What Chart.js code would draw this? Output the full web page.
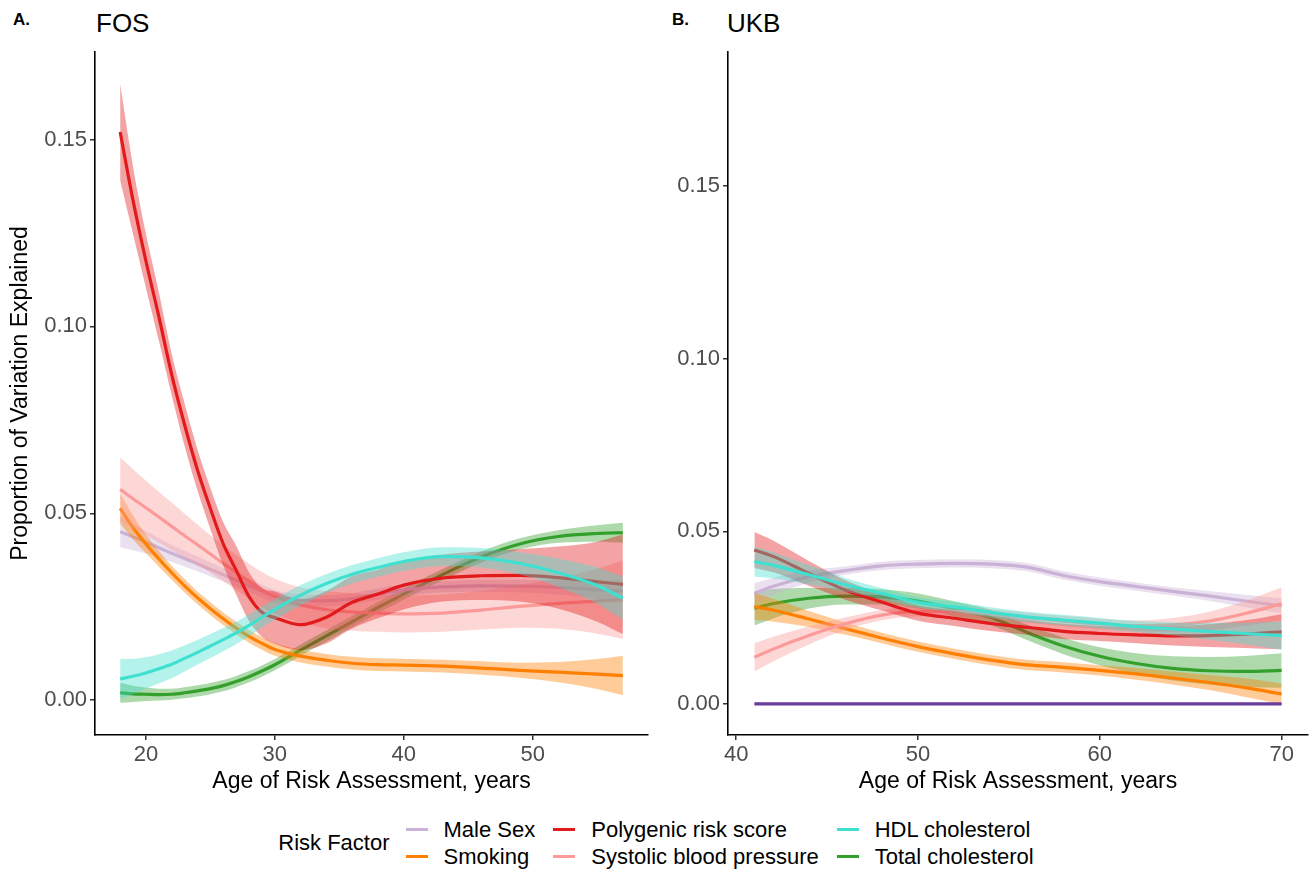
<!DOCTYPE html>
<html>
<head>
<meta charset="utf-8">
<script src="https://cdn.jsdelivr.net/npm/chart.js@4.4.0/dist/chart.umd.min.js"></script>
<style>
    body { margin: 0; background: #fff; width: 1312px; height: 873px; position: relative; overflow: hidden;
           font-family: "Liberation Sans", Arial, sans-serif; }
    canvas { position: absolute; top: 0; }
    .tag { position: absolute; top: 11px; font-size: 17px; font-weight: bold; line-height: 1; }
    .ttl { position: absolute; top: 10px; font-size: 26px; line-height: 1; }
    #legend { position: absolute; left: 0; top: 816px; width: 1312px; display: flex; justify-content: center; align-items: center; font-size: 22px; }
    #legend .head { margin-right: 16px; }
    #legend .col { display: flex; flex-direction: column; margin-right: 18px; }
    #legend .col:last-child { margin-right: 0; }
    #legend .item { display: flex; align-items: center; height: 27px; }
    #legend .key { width: 22px; height: 3px; margin-right: 16px; }
</style>
</head>
<body>
<div class="tag" style="left:13px">A.</div>
<div class="ttl" style="left:96px">FOS</div>
<div class="tag" style="left:672px">B.</div>
<div class="ttl" style="left:727px">UKB</div>
<canvas id="fos-chart" width="660" height="800" style="left:0"></canvas>
<canvas id="ukb-chart" width="652" height="800" style="left:660px"></canvas>
<div id="legend"></div>

<script>
// Faktor risiko (urutan legenda)
const riskFactors = ['Male Sex', 'Smoking', 'Polygenic risk score', 'Systolic blood pressure', 'HDL cholesterol', 'Total cholesterol'];
const legendTitle = 'Risk Factor';

// Tick sumbu
const pveTicks = [0, 0.05, 0.10, 0.15];
const fosAgeTicks = [20, 30, 40, 50];
const ukbAgeTicks = [40, 50, 60, 70];

// FOS: usia dan nilai (rata-rata dan setengah lebar pita)
const fosAges = [18, 19, 20, 21, 22, 23, 24, 25, 26, 27, 28, 29, 30, 32, 34, 36, 38, 40, 43, 46, 49, 52, 55, 57];
const fosMaleSex     = [.0451, .0437, .0423, .0408, .0393, .0379, .0365, .0350, .0336, .0321, .0307, .0292, .0278, .0268, .0266, .0272, .0284, .0295, .0303, .0306, .0305, .0302, .0296, .0292];
const fosMaleSexCI   = [.0042, .0036, .0030, .0026, .0023, .0021, .0020, .0019, .0018, .0018, .0017, .0017, .0017, .0016, .0015, .0015, .0015, .0015, .0015, .0016, .0017, .0019, .0024, .0030];
const fosSmoking     = [.0513, .0462, .0418, .0378, .0341, .0306, .0274, .0245, .0218, .0193, .0171, .0152, .0136, .0118, .0107, .0099, .0095, .0094, .0091, .0086, .0080, .0075, .0070, .0066];
const fosSmokingCI   = [.0040, .0032, .0025, .0021, .0019, .0018, .0017, .0017, .0017, .0017, .0017, .0017, .0017, .0017, .0017, .0017, .0017, .0017, .0017, .0018, .0020, .0027, .0040, .0053];
const fosPrs         = [.1520, .1337, .1175, .1027, .0871, .0737, .0616, .0513, .0418, .0348, .0277, .0235, .0221, .0202, .0222, .0262, .0284, .0308, .0327, .0333, .0334, .0328, .0317, .0310];
const fosPrsCI       = [.0129, .0090, .0072, .0065, .0055, .0057, .0055, .0055, .0058, .0065, .0065, .0065, .0070, .0068, .0070, .0070, .0065, .0065, .0063, .0065, .0070, .0083, .0107, .0133];
const fosSbp         = [.0564, .0539, .0515, .0490, .0465, .0440, .0416, .0391, .0366, .0342, .0318, .0296, .0278, .0255, .0242, .0236, .0233, .0231, .0233, .0241, .0251, .0259, .0265, .0269];
const fosSbpCI       = [.0085, .0079, .0073, .0068, .0064, .0059, .0054, .0050, .0048, .0047, .0047, .0047, .0047, .0047, .0050, .0050, .0050, .0050, .0050, .0052, .0057, .0068, .0087, .0105];
const fosHdl         = [.0057, .0064, .0073, .0084, .0096, .0112, .0128, .0145, .0162, .0180, .0200, .0222, .0243, .0281, .0312, .0337, .0355, .0371, .0384, .0381, .0366, .0341, .0307, .0273];
const fosHdlCI       = [.0053, .0047, .0042, .0039, .0037, .0035, .0033, .0032, .0031, .0030, .0029, .0028, .0028, .0027, .0026, .0025, .0025, .0025, .0025, .0026, .0030, .0038, .0048, .0058];
const fosTotalChol   = [.0020, .0017, .0016, .0015, .0016, .0020, .0025, .0031, .0039, .0050, .0063, .0078, .0095, .0134, .0172, .0210, .0248, .0284, .0336, .0383, .0418, .0438, .0446, .0448];
const fosTotalCholCI = [.0027, .0022, .0018, .0016, .0015, .0015, .0015, .0015, .0015, .0015, .0015, .0015, .0015, .0015, .0015, .0015, .0015, .0015, .0015, .0015, .0015, .0017, .0022, .0027];

// UKB: usia dan nilai
const ukbAges = [41, 42, 44, 46, 48, 50, 52, 54, 56, 58, 60, 62, 64, 66, 68, 70];
const ukbMaleSex     = [.0320, .0340, .0369, .0386, .0400, .0405, .0407, .0405, .0396, .0372, .0354, .0340, .0326, .0313, .0298, .0284];
const ukbMaleSexCI   = [.0030, .0025, .0018, .0012, .0012, .0012, .0012, .0012, .0012, .0012, .0012, .0012, .0012, .0014, .0018, .0022];
const ukbSmoking     = [.0282, .0272, .0246, .0218, .0191, .0166, .0145, .0127, .0113, .0106, .0097, .0087, .0075, .0062, .0047, .0029];
const ukbSmokingCI   = [.0039, .0033, .0023, .0018, .0015, .0015, .0015, .0015, .0015, .0015, .0015, .0017, .0019, .0022, .0027, .0030];
const ukbPrs         = [.0446, .0428, .0378, .0330, .0295, .0263, .0248, .0233, .0222, .0210, .0204, .0200, .0197, .0198, .0202, .0209];
const ukbPrsCI       = [.0052, .0046, .0036, .0028, .0024, .0022, .0022, .0022, .0022, .0022, .0022, .0024, .0028, .0033, .0040, .0051];
const ukbSbp         = [.0135, .0158, .0198, .0232, .0257, .0268, .0268, .0260, .0250, .0240, .0232, .0227, .0229, .0240, .0262, .0290];
const ukbSbpCI       = [.0041, .0036, .0026, .0018, .0015, .0015, .0015, .0015, .0015, .0015, .0015, .0015, .0020, .0027, .0036, .0048];
const ukbHdl         = [.0412, .0402, .0374, .0345, .0320, .0294, .0281, .0265, .0252, .0243, .0234, .0224, .0217, .0210, .0204, .0198];
const ukbHdlCI       = [.0044, .0038, .0028, .0020, .0016, .0015, .0015, .0015, .0015, .0015, .0015, .0016, .0019, .0024, .0031, .0041];
const ukbTotalChol   = [.0277, .0290, .0306, .0312, .0310, .0298, .0275, .0250, .0207, .0168, .0138, .0117, .0103, .0096, .0094, .0097];
const ukbTotalCholCI = [.0050, .0043, .0030, .0024, .0022, .0022, .0022, .0022, .0022, .0024, .0026, .0030, .0035, .0040, .0045, .0050];
const ukbBaseline    = [0, 0, 0, 0, 0, 0, 0, 0, 0, 0, 0, 0, 0, 0, 0, 0];

// Warna per faktor risiko
const factorColors = ['#cab2d6', '#ff7f00', '#e31a1c', '#fb9a99', '#40e0d0', '#33a02c'];
const baselineColor = '#6a3d9a';

// Urutan gambar (angka kecil = di atas)
const drawOrder = [4, 3, 1, 2, 0, 5];

function hexToRgba(hex, a) {
    const n = parseInt(hex.slice(1), 16);
    return `rgba(${n >> 16}, ${(n >> 8) & 255}, ${n & 255}, ${a})`;
}

// Membuat tiga dataset: batas bawah, batas atas (isi), garis tengah
function bandDatasets(ages, mean, ci, colorIdx) {
    const color = factorColors[colorIdx];
    const z = drawOrder[colorIdx] * 3;
    const base = { pointRadius: 0, pointHoverRadius: 0, cubicInterpolationMode: 'monotone' };
    return [
        { ...base, label: riskFactors[colorIdx] + ' lo', data: ages.map((a, i) => ({ x: a, y: mean[i] - ci[i] })),
          borderWidth: 0, borderColor: 'rgba(0,0,0,0)', fill: false, order: z + 2 },
        { ...base, label: riskFactors[colorIdx] + ' hi', data: ages.map((a, i) => ({ x: a, y: mean[i] + ci[i] })),
          borderWidth: 0, borderColor: 'rgba(0,0,0,0)', backgroundColor: hexToRgba(color, 0.4), fill: '-1', order: z + 1 },
        { ...base, label: riskFactors[colorIdx], data: ages.map((a, i) => ({ x: a, y: mean[i] })),
          borderColor: color, borderWidth: 3.2, fill: false, order: z }
    ];
}

const axisGrid = { display: true, drawOnChartArea: false, drawTicks: true, tickLength: 5, color: '#333333', lineWidth: 1.5 };
const axisBorder = { display: true, color: '#000000', width: 1.6 };
const tickFont = { size: 22 };

function makeOptions(p) {
    return {
        responsive: false,
        animation: false,
        events: [],
        layout: { padding: { top: 52, right: p.padRight, left: 0, bottom: 0 } },
        plugins: { legend: { display: false }, tooltip: { enabled: false } },
        scales: {
            x: {
                type: 'linear', min: p.xMin, max: p.xMax,
                afterBuildTicks: s => { s.ticks = p.xTicks.map(v => ({ value: v })); },
                afterFit: s => { s.height = 65; },
                grid: axisGrid, border: axisBorder,
                ticks: { color: '#4d4d4d', font: tickFont, padding: 2, maxRotation: 0 },
                title: { display: true, text: 'Age of Risk Assessment, years', color: '#000', font: { size: 23 }, padding: { top: 0, bottom: 5 } }
            },
            y: {
                type: 'linear', min: p.yMin, max: p.yMax,
                afterBuildTicks: s => { s.ticks = pveTicks.map(v => ({ value: v })); },
                afterFit: s => { s.width = p.yWidth; },
                grid: axisGrid, border: axisBorder,
                ticks: { color: '#4d4d4d', font: tickFont, padding: 3, callback: v => v.toFixed(2) },
                title: { display: p.yTitle, text: 'Proportion of Variation Explained', color: '#000', font: { size: 23 }, padding: { top: 7, bottom: 0 } }
            }
        }
    };
}

Chart.defaults.font.family = '"Liberation Sans", Arial, sans-serif';

// Panel A: FOS
const fosSeries = [
    [fosMaleSex, fosMaleSexCI], [fosSmoking, fosSmokingCI], [fosPrs, fosPrsCI],
    [fosSbp, fosSbpCI], [fosHdl, fosHdlCI], [fosTotalChol, fosTotalCholCI]
];
new Chart(document.getElementById('fos-chart').getContext('2d'), {
    type: 'line',
    data: { datasets: fosSeries.flatMap((s, k) => bandDatasets(fosAges, s[0], s[1], k)) },
    options: makeOptions({ padRight: 12, xMin: 16.05, xMax: 58.95, xTicks: fosAgeTicks, yMin: -0.0093, yMax: 0.1734, yWidth: 95, yTitle: true })
});

// Panel B: UKB
const ukbSeries = [
    [ukbMaleSex, ukbMaleSexCI], [ukbSmoking, ukbSmokingCI], [ukbPrs, ukbPrsCI],
    [ukbSbp, ukbSbpCI], [ukbHdl, ukbHdlCI], [ukbTotalChol, ukbTotalCholCI]
];
const ukbDatasets = ukbSeries.flatMap((s, k) => bandDatasets(ukbAges, s[0], s[1], k));
ukbDatasets.push({
    label: 'baseline', data: ukbAges.map((a, i) => ({ x: a, y: ukbBaseline[i] })),
    borderColor: baselineColor, borderWidth: 3.2, pointRadius: 0, fill: false, order: -1
});
new Chart(document.getElementById('ukb-chart').getContext('2d'), {
    type: 'line',
    data: { datasets: ukbDatasets },
    options: makeOptions({ padRight: 4, xMin: 39.55, xMax: 71.45, xTicks: ukbAgeTicks, yMin: -0.009, yMax: 0.1888, yWidth: 68, yTitle: false })
});

// Legenda
const legend = document.getElementById('legend');
legend.innerHTML = `<div class="head">${legendTitle}</div>`;
for (let c = 0; c < 3; c++) {
    const col = document.createElement('div');
    col.className = 'col';
    [c * 2, c * 2 + 1].forEach(k => {
        col.innerHTML += `<div class="item"><span class="key" style="background:${factorColors[k]}"></span><span>${riskFactors[k]}</span></div>`;
    });
    legend.appendChild(col);
}
</script>
</body>
</html>
